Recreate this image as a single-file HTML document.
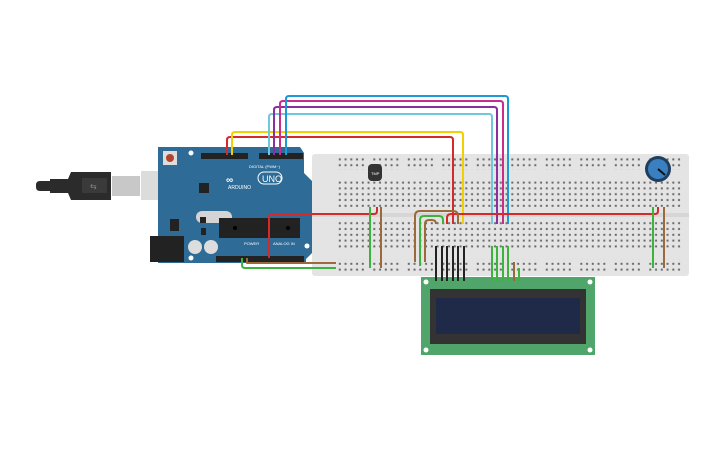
<!DOCTYPE html>
<html><head><meta charset="utf-8"><style>html,body{margin:0;padding:0;background:#fff}svg{display:block}</style></head>
<body>
<svg width="725" height="453" viewBox="0 0 725 453" xmlns="http://www.w3.org/2000/svg" font-family="Liberation Sans, sans-serif">
<defs>
<pattern id="h5" x="337" y="0" width="5.75" height="5.8" patternUnits="userSpaceOnUse"><rect x="1.8" y="1.8" width="2" height="2" fill="#6a6a6a"/></pattern>
</defs>
<!-- USB cable -->
<path d="M36 185 q0-4 4-4 h10 v-2 h18 l3-7 h40 v28 h-40 l-3-7 h-18 v-2 h-10 q-4 0-4-4z" fill="#2b2b2b"/>
<rect x="82" y="178" width="25" height="15" fill="#3a3a3a"/>
<text x="90" y="189" font-size="8" fill="#888">⇆</text>
<rect x="112" y="176" width="28" height="20" fill="#c8c8c8"/>
<rect x="141" y="171" width="30" height="29" fill="#dcdcdc"/>
<!-- Arduino -->
<path d="M158 147 h142 l4 6 v20 l8 8 v72 l-6 6 v4 h-148 z" fill="#2e6b97"/>
<rect x="163" y="151" width="14" height="14" fill="#ddd"/><circle cx="170" cy="158" r="4" fill="#b0442c"/>
<rect x="150" y="236" width="34" height="26" fill="#222"/>
<rect x="196" y="211" width="36" height="12" rx="6" fill="#d4d4d4"/>
<rect x="199" y="183" width="10" height="10" fill="#222"/>
<rect x="200" y="217" width="6" height="6" fill="#222"/>
<rect x="170" y="219" width="9" height="12" fill="#222"/>
<rect x="201" y="228" width="5" height="7" fill="#222"/>
<circle cx="195" cy="247" r="7" fill="#ddd"/><circle cx="211" cy="247" r="7" fill="#ddd"/>
<rect x="219" y="218" width="81" height="20" fill="#222"/>
<circle cx="235" cy="228" r="2" fill="#000"/><circle cx="288" cy="228" r="2" fill="#000"/>
<rect x="201" y="153" width="47" height="6" fill="#222"/><rect x="259" y="153" width="44" height="6" fill="#222"/>
<rect x="216" y="256" width="51" height="6" fill="#222"/><rect x="266" y="256" width="38" height="6" fill="#222"/>
<text x="226" y="183" font-size="10" fill="#fff" font-weight="bold">∞</text>
<text x="228" y="189" font-size="5" fill="#fff">ARDUINO</text>
<rect x="258" y="172" width="24" height="12" rx="6" fill="none" stroke="#fff"/>
<text x="262" y="182" font-size="9" fill="#fff">UNO</text>
<text x="249" y="168" font-size="4" fill="#fff">DIGITAL (PWM~)</text>
<text x="244" y="245" font-size="4" fill="#fff">POWER</text><text x="273" y="245" font-size="4" fill="#fff">ANALOG IN</text>
<circle cx="191" cy="153" r="2.5" fill="#fff"/><circle cx="307" cy="167" r="2.5" fill="#fff"/><circle cx="307" cy="246" r="2.5" fill="#fff"/><circle cx="191" cy="258" r="2.5" fill="#fff"/>
<!-- Breadboard -->
<rect x="312" y="154" width="377" height="122" rx="3" fill="#e4e4e4"/>
<rect x="312" y="213" width="377" height="4" fill="#d6d6d6"/>
<rect x="337" y="181" width="345" height="29" fill="url(#h5)"/>
<rect x="337" y="220" width="345" height="29" fill="url(#h5)"/>
<rect x="337" y="158" width="345" height="12" fill="url(#h5)"/>
<rect x="337" y="259" width="345" height="12" fill="url(#h5)"/>
<g fill="#e4e4e4"><rect x="366" y="156" width="4" height="16"/><rect x="401" y="156" width="4" height="16"/><rect x="435" y="156" width="4" height="16"/><rect x="470" y="156" width="4" height="16"/><rect x="504" y="156" width="4" height="16"/><rect x="539" y="156" width="4" height="16"/><rect x="573" y="156" width="4" height="16"/><rect x="608" y="156" width="4" height="16"/><rect x="642" y="156" width="4" height="16"/>
<rect x="366" y="257" width="4" height="16"/><rect x="401" y="257" width="4" height="16"/><rect x="435" y="257" width="4" height="16"/><rect x="470" y="257" width="4" height="16"/><rect x="504" y="257" width="4" height="16"/><rect x="539" y="257" width="4" height="16"/><rect x="573" y="257" width="4" height="16"/><rect x="608" y="257" width="4" height="16"/><rect x="642" y="257" width="4" height="16"/></g>
<!-- TMP -->
<rect x="368" y="164" width="14" height="17" rx="4" fill="#333"/><text x="371" y="175" font-size="4" fill="#fff">TMP</text>
<!-- Pot -->
<circle cx="658" cy="169" r="13" fill="#1f3e5e"/><circle cx="658" cy="169" r="10" fill="#3a7fc0"/><line x1="658" y1="169" x2="665" y2="175" stroke="#111" stroke-width="2"/>
<!-- LCD -->
<rect x="421" y="277" width="174" height="78" fill="#4fa56a"/>
<rect x="430" y="289" width="156" height="55" fill="#333"/>
<rect x="436" y="298" width="144" height="36" fill="#1e2a48"/>
<g fill="#fff"><circle cx="426" cy="282" r="2.5"/><circle cx="590" cy="282" r="2.5"/><circle cx="426" cy="350" r="2.5"/><circle cx="590" cy="350" r="2.5"/></g>
<!-- wires -->
<g fill="none" stroke-width="2" stroke-linejoin="round">
<path d="M227 155 V140 q0-3 3-3 H450 q3 0 3 3 V224" stroke="#d42a2a"/>
<path d="M232 155 V135 q0-3 3-3 H460 q3 0 3 3 V224" stroke="#f0d000"/>
<path d="M269 155 V117 q0-3 3-3 H489 q3 0 3 3 V224" stroke="#6fc8dc"/>
<path d="M274 155 V110 q0-3 3-3 H494 q3 0 3 3 V224" stroke="#8b2fa0"/>
<path d="M280 155 V104 q0-3 3-3 H500 q3 0 3 3 V224" stroke="#c82c8c"/>
<path d="M286 155 V99 q0-3 3-3 H505 q3 0 3 3 V224" stroke="#1c9ad6"/>
<path d="M269 258 V217 q0-3 3-3 H374 q3 0 3-3 V207" stroke="#d42a2a"/>
<path d="M447 224 V218 q0-4 4-4 H655 q3 0 3-3 V207" stroke="#d42a2a"/>
<path d="M370 207 V268" stroke="#3cb43c"/>
<path d="M381 207 V268" stroke="#9a6a3a"/>
<path d="M653 207 V268" stroke="#3cb43c"/>
<path d="M664 207 V268" stroke="#9a6a3a"/>
<path d="M247 258 V263 H336" stroke="#9a6a3a"/>
<path d="M242 258 V265 q0 3 3 3 H336" stroke="#3cb43c"/>
<path d="M415 262 V216 q0-5 5-5 H453 q5 0 5 5 V224" stroke="#9a6a3a"/>
<path d="M420 266 V220 q0-4 4-4 H439 q4 0 4 4 V224" stroke="#3cb43c"/>
<path d="M425 262 V224 q0-4 4-4 H432 q4 0 4 4 V224" stroke="#9a6a3a"/>
<g stroke="#222"><path d="M436 246V281"/><path d="M442 246V281"/><path d="M447 246V281"/><path d="M453 246V281"/><path d="M458 246V281"/><path d="M464 246V281"/></g>
<g stroke="#3cb43c"><path d="M492 246V281"/><path d="M497 246V281"/><path d="M503 246V281"/><path d="M508 246V281"/><path d="M519 268V281"/></g>
<path d="M514 262V281" stroke="#9a6a3a"/>
</g>
</svg>
</body></html>
